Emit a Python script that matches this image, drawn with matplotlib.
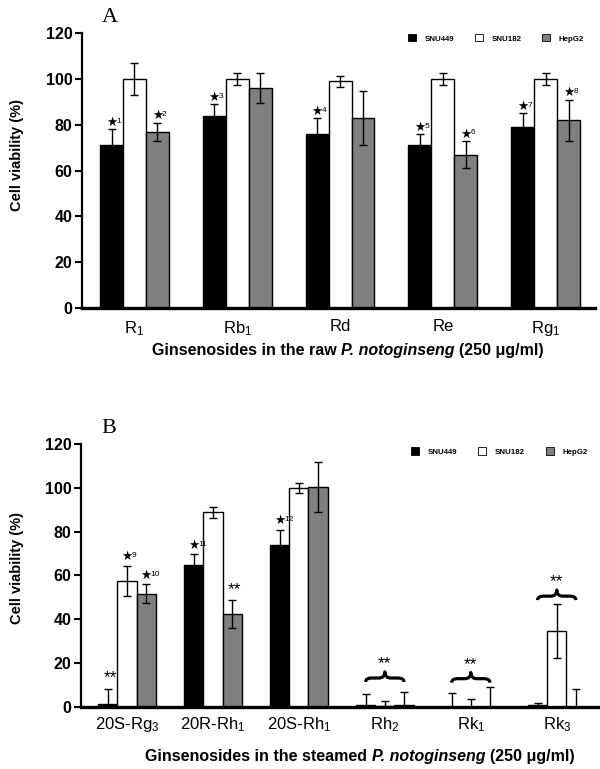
import matplotlib
matplotlib.use("Agg")
import matplotlib.pyplot as plt
import numpy as np
from matplotlib.path import Path
from matplotlib.patches import PathPatch, Patch
from matplotlib.offsetbox import TextArea, HPacker, AnchoredOffsetbox

plt.rcParams['font.family'] = ['Liberation Sans', 'DejaVu Sans']
plt.rcParams['mathtext.fontset'] = 'custom'
plt.rcParams['mathtext.rm'] = 'Liberation Sans'
plt.rcParams['mathtext.it'] = 'Liberation Sans:italic'
plt.rcParams['mathtext.bf'] = 'Liberation Sans:bold'

series = ['SNU449', 'SNU182', 'HepG2']
colors = ['black', 'white', '#808080']

# Panel A
cats_a = ['R$_1$', 'Rb$_1$', 'Rd', 'Re', 'Rg$_1$']
snu449_a = [71, 84, 76, 71, 79]
snu449_a_err = [7, 5, 7, 5, 6]
snu182_a = [100, 100, 99, 100, 100]
snu182_a_err = [7, 2.7, 2.3, 2.5, 2.7]
hepg2_a = [77, 96, 83, 67, 82]
hepg2_a_err = [4, 6.6, 11.6, 6, 9]
stars_a = [(0, 0, '1'), (0, 2, '2'), (1, 0, '3'), (2, 0, '4'),
           (3, 0, '5'), (3, 2, '6'), (4, 0, '7'), (4, 2, '8')]
xlabel_a = ['Ginsenosides in the raw', 'P. notoginseng', '(250 μg/ml)']

# Panel B
cats_b = ['20S-Rg$_3$', '20R-Rh$_1$', '20S-Rh$_1$', 'Rh$_2$', 'Rk$_1$', 'Rk$_3$']
snu449_b = [1.2, 64.6, 73.7, 0.8, 0.0, 0.8]
snu449_b_err = [7, 5, 7, 4.8, 6.4, 0.7]
snu182_b = [57.4, 88.8, 99.7, 0.3, 0.0, 34.4]
snu182_b_err = [7, 2.4, 2.3, 2.4, 3.3, 12.3]
hepg2_b = [51.6, 42.3, 100.2, 0.8, 0.0, 0.0]
hepg2_b_err = [4.3, 6.4, 11.4, 5.7, 9.0, 8.2]
stars_b = [(0, 1, '9'), (0, 2, '10'), (1, 0, '11'), (2, 0, '12')]
dstars_b = [(0, 0), (1, 2)]
braces_b = [3, 4, 5]
brace_base_b = [11.3, 11.0, 48.7]
xlabel_b = ['Ginsenosides in the steamed', 'P. notoginseng', '(250 μg/ml)']

fig = plt.figure(figsize=(6, 7.69), dpi=100)
axA = fig.add_axes([82 / 600, 1 - 308 / 769, 513 / 600, 274.7 / 769])
axB = fig.add_axes([81 / 600, 1 - 706.7 / 769, 517 / 600, 262.7 / 769])

W = 0.223
FS_XL = 11.5


def draw_xlabel(ax, parts, pos):
    styles = ['normal', 'italic', 'normal']
    children = [TextArea(p, textprops=dict(fontsize=FS_XL, fontweight='bold', fontstyle=st))
                for p, st in zip(parts, styles)]
    box = HPacker(children=children, align='baseline', pad=0, sep=FS_XL * 0.278)
    anch = AnchoredOffsetbox(loc='center', child=box, bbox_to_anchor=pos,
                             bbox_transform=ax.transAxes, frameon=False, pad=0, borderpad=0)
    ax.add_artist(anch)


def draw_panel(ax, cats, vals, errs, xlim, xlabel, xl_pos, yl_pos, leg_y, leg_x, pad):
    x = np.arange(len(cats))
    for i, (v, e, c) in enumerate(zip(vals, errs, colors)):
        xs = x + (i - 1) * W
        ax.bar(xs, v, W, color=c, edgecolor='black', linewidth=1.0, zorder=2)
        ax.errorbar(xs, v, yerr=e, fmt='none', ecolor='black', elinewidth=1.0,
                    capsize=3, capthick=1.0, zorder=3)
    ax.set_xlim(*xlim)
    ax.set_ylim(0, 120)
    ax.set_yticks(np.arange(0, 121, 20))
    ax.set_xticks(x)
    ax.set_xticklabels(cats, fontsize=12)
    for s in ['top', 'right']:
        ax.spines[s].set_visible(False)
    ax.spines['bottom'].set_linewidth(2.4)
    ax.spines['left'].set_linewidth(1.6)
    ax.tick_params(axis='x', length=0, pad=pad)
    ax.tick_params(axis='y', direction='out', length=5, width=1.5, pad=2, labelsize=11.5)
    for t in ax.get_yticklabels():
        t.set_fontweight('bold')
    ax.set_ylabel('Cell viability (%)', fontsize=10.5, fontweight='bold', va='center')
    ax.yaxis.set_label_coords(*yl_pos)
    draw_xlabel(ax, xlabel, xl_pos)
    handles = [Patch(facecolor=c, edgecolor='black', linewidth=0.6) for c in colors]
    ax.legend(handles, series, loc='center right', bbox_to_anchor=(leg_x, leg_y),
              ncol=3, frameon=False, prop={'size': 5.7, 'weight': 'bold'},
              handlelength=1.0, handleheight=1.0, columnspacing=2.65,
              handletextpad=1.1, borderpad=0, borderaxespad=0)


def star(ax, x, y, num):
    ax.text(x, y, '\u2605', fontsize=9, family='DejaVu Sans', ha='center', va='baseline')
    ax.annotate(num, (x, y), xytext=(3.3, 2.2), textcoords='offset points',
                fontsize=6, ha='left', va='baseline')


def dstar(ax, x, y):
    ax.text(x, y, '**', fontsize=12.5, ha='center', va='center')


def brace(ax, x0, x1, yb, h1, h2):
    xm = (x0 + x1) / 2
    w = 0.16 * (x1 - x0)
    ym = yb + h1
    yt = ym + h2
    verts = [(x0, yb), (x0, ym), (x0 + w, ym), (xm - w, ym), (xm, ym), (xm, yt),
             (xm, ym), (xm + w, ym), (x1 - w, ym), (x1, ym), (x1, yb)]
    codes = [Path.MOVETO, Path.CURVE3, Path.CURVE3, Path.LINETO, Path.CURVE3, Path.CURVE3,
             Path.CURVE3, Path.CURVE3, Path.LINETO, Path.CURVE3, Path.CURVE3]
    ax.add_patch(PathPatch(Path(verts, codes), fill=False, lw=2.3, edgecolor='black',
                           capstyle='butt', joinstyle='round', zorder=4))


vals_a = [snu449_a, snu182_a, hepg2_a]
errs_a = [snu449_a_err, snu182_a_err, hepg2_a_err]
draw_panel(axA, cats_a, vals_a, errs_a, (-0.51, 4.48), xlabel_a,
           ((348 - 82) / 513, -42 / 274.7), ((17 - 82) / 513, (308 - 155) / 274.7),
           0.981, 0.979, 8)
for g, s, n in stars_a:
    star(axA, g + (s - 1) * W, vals_a[s][g] + errs_a[s][g] + 1.5, n)

vals_b = [snu449_b, snu182_b, hepg2_b]
errs_b = [snu449_b_err, snu182_b_err, hepg2_b_err]
draw_panel(axB, cats_b, vals_b, errs_b, (-0.535, 5.48), xlabel_b,
           ((360 - 81) / 517, -50 / 262.7), ((17 - 81) / 517, (706.7 - 568) / 262.7),
           0.971, 0.98, 6)
for g, s, n in stars_b:
    star(axB, g + (s - 1) * W, vals_b[s][g] + errs_b[s][g] + 2.6, n)
for g, s in dstars_b:
    dstar(axB, g + (s - 1) * W + 0.03, vals_b[s][g] + errs_b[s][g] + 5.0)
for g, yb in zip(braces_b, brace_base_b):
    brace(axB, g - W, g + W, yb, 1.8, 2.8)
    dstar(axB, g, yb + 8.3)

fig.text(109.5 / 600, 1 - 17.5 / 769, 'A', family='Liberation Serif', fontsize=16,
         ha='center', va='center')
fig.text(108.5 / 600, 1 - 428.5 / 769, 'B', family='Liberation Serif', fontsize=16,
         ha='center', va='center')

fig.savefig('out.png', dpi=100)
